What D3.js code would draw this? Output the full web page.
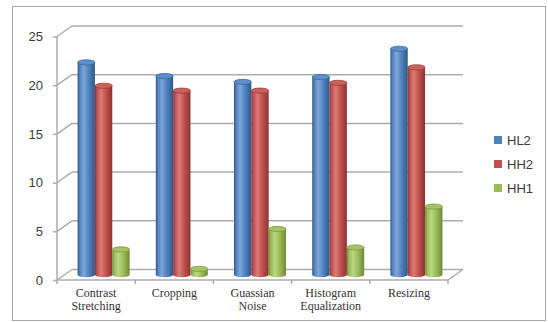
<!DOCTYPE html>
<html>
<head>
<meta charset="utf-8">
<script src="https://cdn.jsdelivr.net/npm/d3@7"></script>
<style>
  html, body { margin: 0; padding: 0; background: #fff; }
  svg { display: block; }
</style>
</head>
<body>
<svg id="chart" width="548" height="322"></svg>
<script>
// Data
const categories = ["Contrast Stretching", "Cropping", "Guassian Noise", "Histogram Equalization", "Resizing"];
const categoryLines = [["Contrast", "Stretching"], ["Cropping"], ["Guassian", "Noise"], ["Histogram", "Equalization"], ["Resizing"]];
const seriesNames = ["HL2", "HH2", "HH1"];
const HL2 = [21.8, 20.4, 19.8, 20.3, 23.2];
const HH2 = [19.4, 18.9, 18.9, 19.7, 21.3];
const HH1 = [2.6, 0.6, 4.7, 2.8, 7.0];
const yTicks = [0, 5, 10, 15, 20, 25];

const seriesValues = [HL2, HH2, HH1];
const palette = {
  HL2: { base: "#4f81bd", light: "#7ea6da", dark: "#2f5889", top: "#5d8fcc", rim: "#3b679c" },
  HH2: { base: "#c0504d", light: "#db7b78", dark: "#8c3331", top: "#cc605d", rim: "#9c3d3a" },
  HH1: { base: "#9bbb59", light: "#bcd782", dark: "#6e8a36", top: "#a6c466", rim: "#7a9940" }
};

const svg = d3.select("#chart");

// Outer frame
svg.append("rect")
  .attr("x", 12.5).attr("y", 6.5).attr("width", 533).attr("height", 314)
  .attr("fill", "#fff").attr("stroke", "#a6a6a6").attr("stroke-width", 1);

// 3D plot geometry: front plane plus a depth offset
const DX = 15, DY = -10.5;
const x = d3.scaleBand().domain(categories).range([57, 448]);
const y = d3.scaleLinear().domain([0, 25]).range([280, 36.5]);
const xs = d3.scaleBand().domain(seriesNames).range([0, 52]);
const groupPad = (x.bandwidth() - 52) / 2;

const gridColor = "#acacac";
const grid = svg.append("g");

// Back wall gridlines and left wall slants
yTicks.forEach(v => {
  grid.append("line")
    .attr("x1", 57 + DX).attr("x2", 448 + DX)
    .attr("y1", y(v) + DY).attr("y2", y(v) + DY)
    .attr("stroke", gridColor).attr("stroke-width", 1.5);
  grid.append("line")
    .attr("x1", 57).attr("x2", 57 + DX)
    .attr("y1", y(v)).attr("y2", y(v) + DY)
    .attr("stroke", gridColor).attr("stroke-width", 1.5);
});

// Floor front edge and right edge
grid.append("line")
  .attr("x1", 57).attr("x2", 448).attr("y1", y(0)).attr("y2", y(0))
  .attr("stroke", gridColor).attr("stroke-width", 1.5);
grid.append("line")
  .attr("x1", 448).attr("x2", 448 + DX).attr("y1", y(0)).attr("y2", y(0) + DY)
  .attr("stroke", gridColor).attr("stroke-width", 1.5);

// Y axis
const yAxis = d3.axisLeft(y).tickValues(yTicks).tickSize(4).tickPadding(10);
const yg = svg.append("g").attr("transform", "translate(57,0)").call(yAxis);
yg.select(".domain").attr("stroke", gridColor).attr("stroke-width", 1.5)
  .attr("d", `M0,${y(25)}V${y(0)}`);
yg.selectAll(".tick line").attr("stroke", gridColor).attr("stroke-width", 1.5);
yg.selectAll(".tick text")
  .attr("font-family", "Liberation Sans, Arial, sans-serif")
  .attr("font-size", 13).attr("fill", "#3a3a3a");

// Category ticks at band boundaries
const boundaries = categories.map(c => x(c)).concat([x(categories[categories.length - 1]) + x.bandwidth()]);
svg.append("g").selectAll("line").data(boundaries).join("line")
  .attr("x1", d => d).attr("x2", d => d)
  .attr("y1", y(0)).attr("y2", y(0) + 4)
  .attr("stroke", gridColor).attr("stroke-width", 1.5);

// Category labels
const labels = svg.append("g")
  .attr("font-family", "Liberation Serif, Times New Roman, serif")
  .attr("font-size", 12).attr("fill", "#333");
categories.forEach((c, i) => {
  const t = labels.append("text")
    .attr("x", x(c) + x.bandwidth() / 2)
    .attr("y", 297)
    .attr("text-anchor", "middle");
  categoryLines[i].forEach((ln, j) => {
    t.append("tspan").attr("x", x(c) + x.bandwidth() / 2).attr("dy", j === 0 ? 0 : 12.5).text(ln);
  });
});

// Gradients for cylinder bodies
const defs = svg.append("defs");
seriesNames.forEach(s => {
  const p = palette[s];
  const g = defs.append("linearGradient").attr("id", "grad-" + s)
    .attr("x1", "0%").attr("x2", "100%").attr("y1", "0%").attr("y2", "0%");
  g.append("stop").attr("offset", "0%").attr("stop-color", p.dark);
  g.append("stop").attr("offset", "12%").attr("stop-color", p.base);
  g.append("stop").attr("offset", "35%").attr("stop-color", p.light);
  g.append("stop").attr("offset", "65%").attr("stop-color", p.base);
  g.append("stop").attr("offset", "100%").attr("stop-color", p.dark);
});

// Cylinders, placed at mid depth
const ry = 2.6;
const bars = svg.append("g");
categories.forEach((c, i) => {
  seriesNames.forEach((s, k) => {
    const v = seriesValues[k][i];
    const w = xs.bandwidth();
    const x0 = x(c) + groupPad + xs(s) + DX / 2;
    const yTop = y(v) + DY / 2;
    const yBase = y(0) + DY / 2;
    const rx = w / 2;
    const p = palette[s];
    bars.append("path")
      .attr("d", `M${x0},${yTop}L${x0},${yBase}A${rx},${ry} 0 0 0 ${x0 + w},${yBase}L${x0 + w},${yTop}Z`)
      .attr("fill", `url(#grad-${s})`);
    bars.append("ellipse")
      .attr("cx", x0 + rx).attr("cy", yTop).attr("rx", rx).attr("ry", ry)
      .attr("fill", p.top).attr("stroke", p.rim).attr("stroke-width", 0.8);
  });
});

// Legend
const legend = svg.append("g")
  .attr("font-family", "Liberation Sans, Arial, sans-serif")
  .attr("font-size", 13).attr("fill", "#3a3a3a");
seriesNames.forEach((s, k) => {
  const cy = 140 + k * 24;
  legend.append("rect").attr("x", 494).attr("y", cy - 4).attr("width", 8).attr("height", 8)
    .attr("fill", palette[s].base);
  legend.append("text").attr("x", 507).attr("y", cy + 4.5).text(s);
});
</script>
</body>
</html>
